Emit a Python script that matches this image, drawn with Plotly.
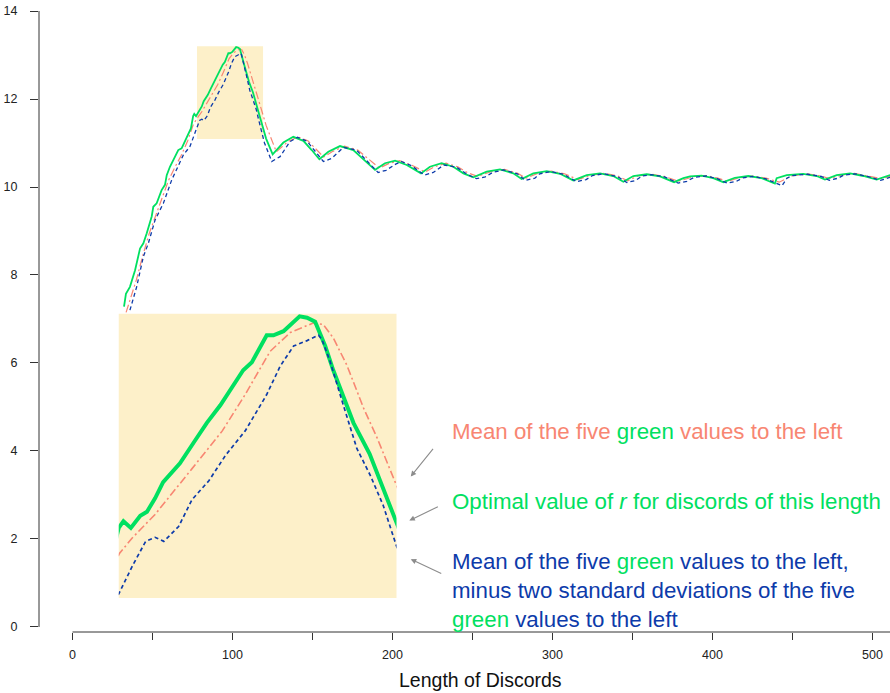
import plotly.graph_objects as go

# ---- data: optimal r per discord length, and its running statistics ----
green_x = [32.2, 33.4, 35.9, 39.1, 42.2, 44.3, 46.4, 49.5, 50.5, 52.6, 55.7, 57.8, 58.9, 60.9,
           63.0, 66.1, 68.2, 71.4, 74.0,
           75.4, 76.1, 77.2, 78.6, 79.6, 80.8, 82.0, 83.3, 84.5, 86.5, 88.5, 90.5, 92.4, 93.9,
           95.2, 97.4, 98.4, 99.9, 102.3, 103.4, 104.6, 106.1, 107.3, 110.3, 112.7, 116.6,
           121.0, 125.1, 131.8, 138.0, 144.3, 149.5, 154.3, 159.9, 167.2, 175.5, 181.8, 189.1,
           195.3, 201.6, 208.9, 217.8, 223.4, 230.7, 238.0, 244.3, 250.5, 258.9, 267.2, 275.5,
           280.7, 288.0, 296.4, 304.7, 313.0, 321.4, 329.7, 338.0, 344.3, 350.5, 358.9, 367.2,
           376.0, 381.8, 386.0, 393.2, 400.5, 406.8, 414.0, 422.4, 430.7, 439.0, 440.1, 446.4,
           456.7, 465.1, 470.3, 477.6, 486.0, 494.3, 502.6, 511.0]
green_y = [7.28, 7.57, 7.73, 8.11, 8.60, 8.72, 8.95, 9.33, 9.55, 9.63, 9.93, 10.05, 10.27, 10.46,
           10.61, 10.84, 10.88, 11.14, 11.33,
           11.61, 11.66, 11.61, 11.70, 11.73, 11.83, 11.95, 12.02, 12.09, 12.24, 12.39, 12.52, 12.66, 12.78,
           12.84, 13.04, 13.04, 13.07, 13.18, 13.17, 13.14, 12.96, 12.78, 12.39, 12.16, 11.66,
           11.10, 10.74, 11.01, 11.14, 11.05, 10.84, 10.63, 10.80, 10.93, 10.84, 10.63, 10.39,
           10.54, 10.60, 10.50, 10.31, 10.46, 10.54, 10.46, 10.31, 10.22, 10.35, 10.40, 10.31,
           10.18, 10.31, 10.36, 10.30, 10.15, 10.27, 10.31, 10.25, 10.12, 10.25, 10.29, 10.24,
           10.11, 10.20, 10.24, 10.26, 10.20, 10.11, 10.21, 10.25, 10.20, 10.08, 10.20, 10.27,
           10.30, 10.25, 10.17, 10.27, 10.31, 10.25, 10.17, 10.27]

mean_x = [33.5, 36.0, 40.0, 44.0, 48.0, 52.0, 56.0, 60.0, 64.0, 68.0, 72.0,
          75.5, 77.4, 78.9, 80.8, 86.3, 90.8, 94.2, 96.7, 97.9, 100.9, 104.3, 105.8, 107.3,
          109.3, 111.8, 113.8, 116.6,
          121.0, 127.4, 134.6, 140.8, 147.1, 152.3, 157.0, 162.7, 170.0, 178.3, 184.6, 191.8,
          198.1, 204.4, 211.7, 220.5, 226.2, 233.5, 240.8, 247.1, 253.2, 261.7, 270.0, 278.3,
          283.4, 290.8, 299.2, 307.5, 315.7, 324.2, 332.5, 340.8, 347.0, 353.3, 361.7, 370.0,
          378.7, 384.6, 388.8, 396.0, 403.3, 409.5, 416.8, 425.2, 433.5, 441.7, 444.0, 449.2,
          459.5, 467.9, 473.0, 480.4, 488.8, 497.1, 505.3, 511.0]
mean_y = [7.15, 7.45, 7.90, 8.45, 8.95, 9.35, 9.75, 10.15, 10.45, 10.72, 11.05,
          11.42, 11.535, 11.61, 11.71, 12.05, 12.33, 12.60, 12.82, 12.92, 13.06, 13.13, 13.12, 13.02,
          12.82, 12.50, 12.28, 11.94,
          11.40, 10.80, 11.03, 11.14, 11.05, 10.85, 10.68, 10.81, 10.93, 10.84, 10.64, 10.43,
          10.54, 10.60, 10.50, 10.34, 10.46, 10.54, 10.46, 10.32, 10.24, 10.35, 10.40, 10.31,
          10.20, 10.31, 10.36, 10.30, 10.17, 10.27, 10.31, 10.25, 10.14, 10.25, 10.29, 10.24,
          10.13, 10.20, 10.24, 10.26, 10.20, 10.13, 10.21, 10.25, 10.20, 10.11, 10.15, 10.25,
          10.30, 10.25, 10.19, 10.27, 10.31, 10.25, 10.19, 10.24]

low_x = [35.9, 40.1, 44.3, 47.4, 51.6, 56.8, 62.0, 66.1, 69.3, 73.4,
         75.5, 77.4, 79.4, 80.8, 82.1, 84.3, 86.3, 88.8, 91.3, 94.2, 96.7, 97.4, 99.4, 101.4,
         103.4, 105.1, 105.6, 106.8, 108.8, 110.8, 112.8, 114.7, 116.6,
         120.0, 124.5, 129.7, 135.9, 140.6, 146.6, 151.8, 156.8, 162.0, 169.3, 177.5, 184.0,
         191.0, 196.0, 202.0, 205.5, 212.0, 220.0, 225.5, 232.0, 240.0, 247.0, 252.5, 258.0,
         262.5, 269.5, 278.0, 283.0, 289.0, 292.0, 299.0, 307.0, 315.0, 321.0, 325.0, 332.0,
         340.5, 346.5, 352.0, 356.0, 362.0, 370.0, 378.5, 384.0, 388.5, 396.0, 403.0, 409.0,
         415.0, 419.0, 425.0, 433.0, 441.5, 443.5, 446.5, 450.0, 459.5, 468.0, 473.0, 478.5,
         482.0, 489.0, 497.0, 505.0, 511.0]
low_y = [7.20, 7.73, 8.42, 8.72, 9.25, 9.63, 10.16, 10.46, 10.73, 10.92,
         11.13, 11.325, 11.51, 11.54, 11.51, 11.62, 11.82, 11.96, 12.15, 12.33, 12.54, 12.60, 12.81, 12.96,
         13.00, 13.04, 13.01, 12.85, 12.52, 12.20, 12.00, 11.78, 11.49,
         11.00, 10.58, 10.69, 11.03, 11.13, 11.04, 10.80, 10.58, 10.65, 10.90, 10.84, 10.60,
         10.33, 10.38, 10.52, 10.58, 10.48, 10.27, 10.33, 10.50, 10.45, 10.28, 10.19, 10.23,
         10.33, 10.39, 10.30, 10.15, 10.20, 10.30, 10.35, 10.29, 10.12, 10.17, 10.26, 10.30,
         10.24, 10.10, 10.15, 10.25, 10.28, 10.23, 10.09, 10.13, 10.22, 10.25, 10.19, 10.09,
         10.13, 10.21, 10.24, 10.19, 10.06, 10.03, 10.20, 10.26, 10.29, 10.24, 10.15, 10.20,
         10.27, 10.30, 10.24, 10.15, 10.22]

x_ticks = [0, 50, 100, 150, 200, 250, 300, 350, 400, 450, 500]
x_tick_text = ["0", "", "100", "", "200", "", "300", "", "400", "", "500"]
y_ticks = [0, 2, 4, 6, 8, 10, 12, 14]

# zoom window shown enlarged in the lower-left panel
zoom_x = [75.4, 116.7]
zoom_y = [11.09, 13.2]

GREEN = "#00E060"
SALMON = "#F88672"
BLUE = "#0D3BAA"
BEIGE = "#FDF0C9"
FONT = "Liberation Sans, Arial, sans-serif"

fig = go.Figure()

for xa, ya, w_scale in (("x", "y", 1.0), ("x2", "y2", 2.2)):
    fig.add_trace(go.Scatter(x=mean_x, y=mean_y, mode="lines", xaxis=xa, yaxis=ya,
                             line=dict(color=SALMON, width=1.2 if xa == "x" else 1.6,
                                       dash="8px,3px,2px,3px"),
                             hoverinfo="skip", showlegend=False))
    fig.add_trace(go.Scatter(x=green_x, y=green_y, mode="lines", xaxis=xa, yaxis=ya,
                             line=dict(color=GREEN, width=1.8 * w_scale),
                             hoverinfo="skip", showlegend=False))
    fig.add_trace(go.Scatter(x=low_x, y=low_y, mode="lines", xaxis=xa, yaxis=ya,
                             line=dict(color=BLUE, width=1.3 if xa == "x" else 1.7,
                                       dash="4px,3px"),
                             hoverinfo="skip", showlegend=False))

shapes = [
    # highlighted zoom source in the main plot
    dict(type="rect", xref="x", yref="y", x0=77.8, x1=119.1, y0=11.09, y1=13.2,
         fillcolor=BEIGE, line=dict(width=0), layer="below"),
    # background of the enlarged panel
    dict(type="rect", xref="x2 domain", yref="y2 domain", x0=0, x1=1, y0=0, y1=1,
         fillcolor=BEIGE, line=dict(width=0), layer="below"),
    # detached axis lines
    dict(type="line", xref="paper", yref="y", x0=0, x1=0, y0=0, y1=14,
         line=dict(color="#333333", width=1)),
    dict(type="line", xref="x", yref="paper", x0=0, x1=511, y0=0, y1=0,
         line=dict(color="#333333", width=1)),
]

annotations = [
    dict(x=236, y=4.44, xref="x", yref="y", xanchor="left", yanchor="middle", showarrow=False,
         text=f'Mean of the five <span style="color:{GREEN}">green</span> values to the left',
         font=dict(family=FONT, size=22.3, color=SALMON)),
    dict(x=236, y=2.85, xref="x", yref="y", xanchor="left", yanchor="middle", showarrow=False,
         text="Optimal value of <i>r</i> for discords of this length",
         font=dict(family=FONT, size=22.3, color=GREEN)),
    dict(x=236, y=0.82, xref="x", yref="y", xanchor="left", yanchor="middle", showarrow=False,
         align="left",
         text=(f'Mean of the five <span style="color:{GREEN}">green</span> values to the left,<br>'
               'minus two standard deviations of the five<br>'
               f'<span style="color:{GREEN}">green</span> values to the left'),
         font=dict(family=FONT, size=22.3, color=BLUE)),
    # pointer arrows
    dict(x=211.4, y=3.42, ax=226.1, ay=4.08, xref="x", yref="y", axref="x", ayref="y",
         showarrow=True, arrowhead=2, arrowsize=1, arrowwidth=1.1, arrowcolor="#8C8C8C", text=""),
    dict(x=210.5, y=2.42, ax=229.3, ay=2.75, xref="x", yref="y", axref="x", ayref="y",
         showarrow=True, arrowhead=2, arrowsize=1, arrowwidth=1.1, arrowcolor="#8C8C8C", text=""),
    dict(x=211.4, y=1.54, ax=231.4, ay=1.20, xref="x", yref="y", axref="x", ayref="y",
         showarrow=True, arrowhead=2, arrowsize=1, arrowwidth=1.1, arrowcolor="#8C8C8C", text=""),
    # x axis title
    dict(x=255, y=0, xref="x", yref="paper", yshift=-48, xanchor="center", yanchor="middle",
         showarrow=False, text="Length of Discords",
         font=dict(family=FONT, size=19.5, color="#111111")),
]

fig.update_layout(
    width=890, height=693,
    margin=dict(l=39, r=0, t=11, b=61),
    paper_bgcolor="white", plot_bgcolor="rgba(0,0,0,0)",
    font=dict(family=FONT, size=12, color="#222222"),
    showlegend=False,
    xaxis=dict(range=[-20.94, 510.94], tickvals=x_ticks, ticktext=x_tick_text,
               ticks="outside", ticklen=7, tickwidth=1, tickcolor="#333333",
               showgrid=False, zeroline=False, showline=False,
               tickfont=dict(family=FONT, size=12.5, color="#222222"), ticklabelstandoff=4),
    yaxis=dict(range=[-0.114, 14], tickvals=y_ticks,
               ticks="outside", ticklen=8, tickwidth=1, tickcolor="#333333",
               showgrid=False, zeroline=False, showline=False,
               tickfont=dict(family=FONT, size=12.5, color="#222222"), ticklabelstandoff=10),
    xaxis2=dict(domain=[0.0937, 0.4201], range=zoom_x, anchor="y2", visible=False),
    yaxis2=dict(domain=[0.0548, 0.5126], range=zoom_y, anchor="x2", visible=False),
    shapes=shapes,
    annotations=annotations,
)

fig.write_html("out.html")
